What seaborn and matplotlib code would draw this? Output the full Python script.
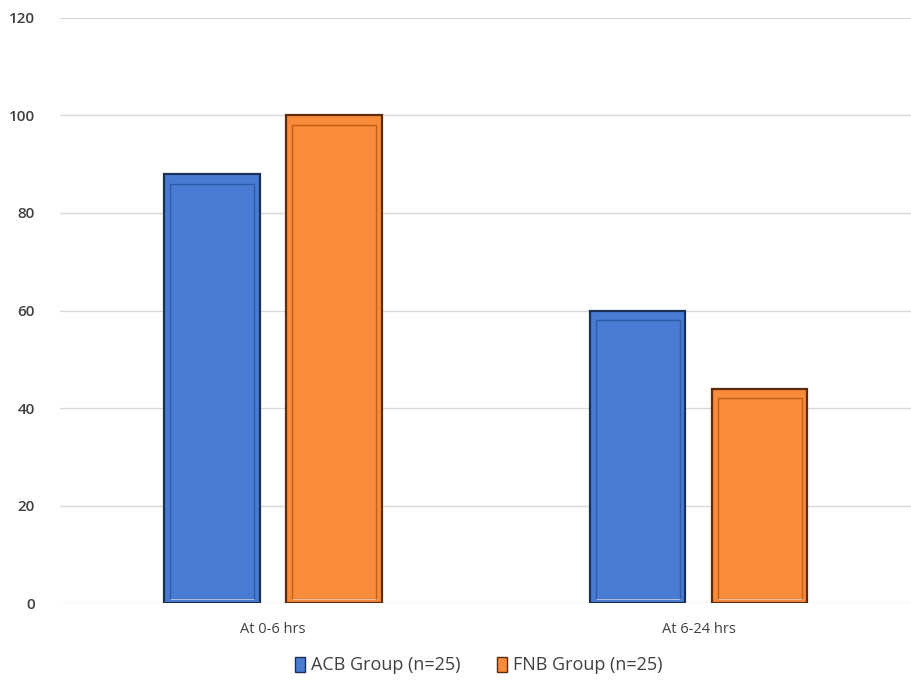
import matplotlib
matplotlib.use("Agg")
import matplotlib.pyplot as plt
from matplotlib.patches import Rectangle, Patch
import seaborn as sns
import pandas as pd

categories = ["At 0-6 hrs", "At 6-24 hrs"]
groups = ["ACB Group (n=25)", "FNB Group (n=25)"]
acb_values = [88, 60]
fnb_values = [100, 44]
y_ticks = [0, 20, 40, 60, 80, 100, 120]

colors = {"ACB Group (n=25)": "#4A7BD3", "FNB Group (n=25)": "#F98B3B"}
edges = {"ACB Group (n=25)": "#1C2F55", "FNB Group (n=25)": "#5A2C0A"}
inner = {"ACB Group (n=25)": "#2E5AA8", "FNB Group (n=25)": "#C25F18"}

df = pd.DataFrame({
    "period": categories * 2,
    "group": [groups[0]] * 2 + [groups[1]] * 2,
    "value": acb_values + fnb_values,
})

sns.set_theme(style="white")
plt.rcParams["font.family"] = ["Open Sans", "DejaVu Sans"]

fig = plt.figure(figsize=(9.12, 6.81), dpi=100)
ax = fig.add_axes([0.0658, 0.1145, 0.934, 0.8591])

sns.barplot(data=df, x="period", y="value", hue="group", order=categories,
            hue_order=groups, palette=colors, width=0.573, gap=0.22,
            saturation=1, legend=False, ax=ax, zorder=3)

# dark outer edge and an inset bevel line on every bar
for patch, (_, row) in zip(ax.patches, df.sort_values(["group", "period"]).iterrows()):
    g = row["group"]
    patch.set_edgecolor(edges[g])
    patch.set_linewidth(1.6)
    x0, y0 = patch.get_x(), patch.get_y()
    w, h = patch.get_width(), patch.get_height()
    dx = w * 0.06
    dy = 1.4
    ax.add_patch(Rectangle((x0 + dx, y0 + dy * 0.6), w - 2 * dx, h - 2 * dy,
                           fill=False, edgecolor=inner[g], linewidth=1.0, zorder=4))
    ax.add_patch(Rectangle((x0 + dx, y0 + dy * 0.6), w - 2 * dx, 0.01,
                           fill=False, edgecolor="#FFFFFF", linewidth=0.8,
                           alpha=0.6, zorder=5))

ax.set_xlim(-0.5, 1.5)
ax.set_ylim(0, 120)
ax.set_yticks(y_ticks)
ax.yaxis.grid(True, color="#D9D9D9", linewidth=1.0, zorder=0)
ax.set_axisbelow(True)
for s in ax.spines.values():
    s.set_visible(False)
ax.set_xlabel("")
ax.set_ylabel("")
ax.tick_params(axis="y", length=0, pad=18, labelsize=11, labelcolor="#404040")
ax.tick_params(axis="x", length=0, pad=14, labelsize=10.5, labelcolor="#404040")
for lab in ax.get_yticklabels():
    lab.set_fontweight("semibold")

handles = [Patch(facecolor=colors[g], edgecolor=edges[g], linewidth=1.0) for g in groups]
fig.legend(handles, groups, loc="center", bbox_to_anchor=(0.525, 0.023), ncol=2,
           frameon=False, fontsize=13, handlelength=0.55, handleheight=0.9,
           handletextpad=0.35, columnspacing=2.0, labelcolor="#404040")

fig.savefig("out.png", dpi=100, facecolor="white")
